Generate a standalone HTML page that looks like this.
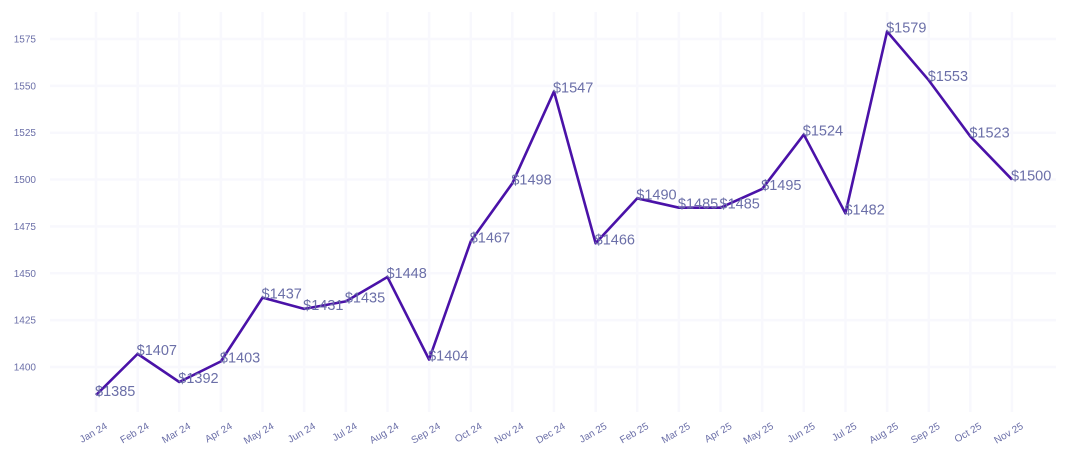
<!DOCTYPE html>
<html><head><meta charset="utf-8"><style>
html,body{margin:0;padding:0;background:#fff;}
svg{display:block;font-family:"Liberation Sans",sans-serif;}
</style></head><body>
<svg id="c" width="1070" height="465" xmlns="http://www.w3.org/2000/svg"></svg>
<script>
const vals=[1385,1407,1392,1403,1437,1431,1435,1448,1404,1467,1498,1547,1466,1490,1485,1485,1495,1524,1482,1579,1553,1523,1500];
const mon=["Jan","Feb","Mar","Apr","May","Jun","Jul","Aug","Sep","Oct","Nov","Dec"];
const X=i=>96+i*41.636, Y=v=>367-(v-1400)*46.86/25;
let s='';
for(let i=0;i<vals.length;i++) s+=`<line x1="${X(i)}" y1="12" x2="${X(i)}" y2="412" stroke="#f8f8fd" stroke-width="2.5"/>`;
for(let v=1400;v<=1575;v+=25){s+=`<line x1="50" y1="${Y(v)}" x2="1056" y2="${Y(v)}" stroke="#f8f8fd" stroke-width="2.5"/>`;
s+=`<text x="36" y="${Y(v)+3.5}" text-anchor="end" font-size="10" fill="#6b6fa8">${v}</text>`;}
s+=`<polyline fill="none" stroke="#4a12a8" stroke-width="2.6" stroke-linejoin="round" points="${vals.map((v,i)=>X(i)+','+Y(v)).join(' ')}"/>`;
vals.forEach((v,i)=>{s+=`<text x="${X(i)-1}" y="${Y(v)+1}" font-size="14.5" fill="#6b6fa8">$${v}</text>`;
const m=mon[i%12]+' '+(i<12?'24':'25');
s+=`<text transform="translate(${X(i)+12},${428}) rotate(-30)" text-anchor="end" font-size="10" fill="#6b6fa8">${m}</text>`;});
document.getElementById('c').innerHTML=s;
</script>
</body></html>
